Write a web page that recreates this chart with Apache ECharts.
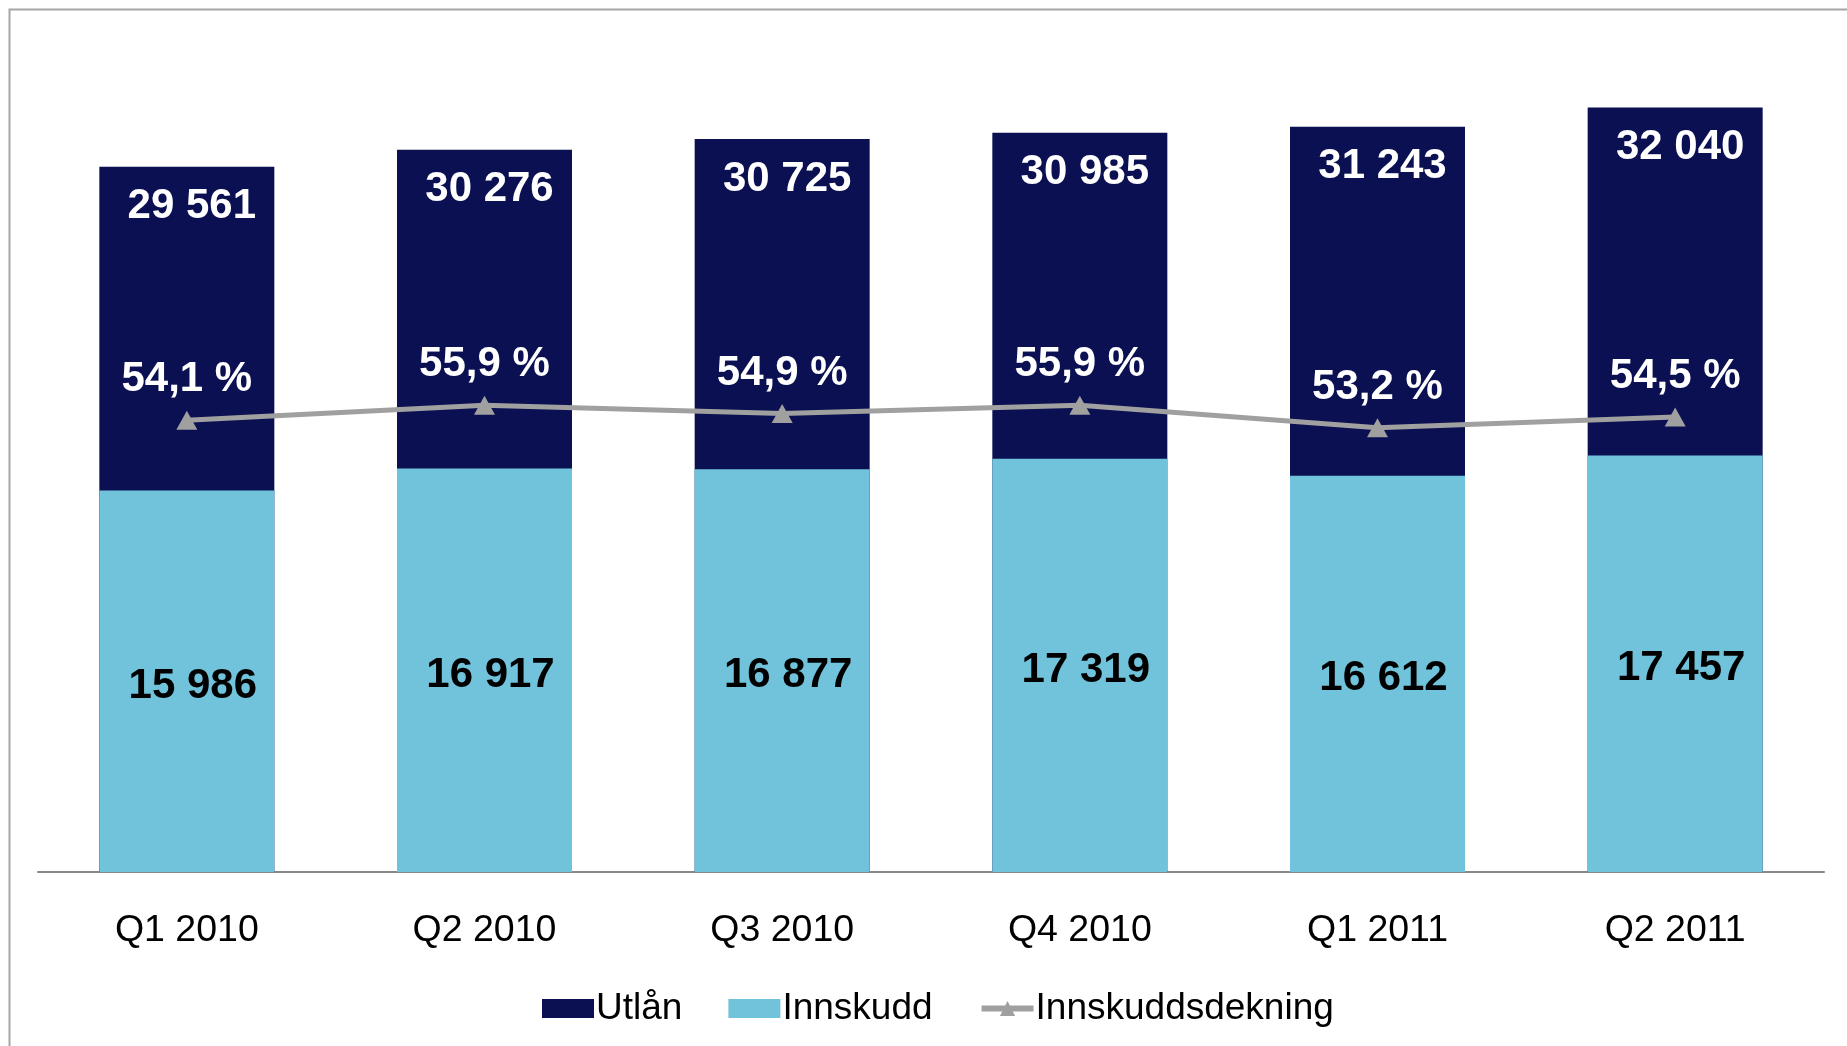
<!DOCTYPE html>
<html lang="no">
<head>
    <meta charset="UTF-8">
    <title>Utlån og innskudd</title>
    <style>
        html, body { margin: 0; padding: 0; background: #fff; }
        #main { width: 1847px; height: 1046px; }
    </style>
</head>
<body>
    <div id="main"></div>
    <script src="https://cdn.jsdelivr.net/npm/echarts@6/dist/echarts.min.js"></script>
    <script>
        // kvartaler
        var categories = ['Q1 2010', 'Q2 2010', 'Q3 2010', 'Q4 2010', 'Q1 2011', 'Q2 2011'];
        // utlån og innskudd (MNOK)
        var utlan = [29561, 30276, 30725, 30985, 31243, 32040];
        var innskudd = [15986, 16917, 16877, 17319, 16612, 17457];
        // innskuddsdekning i prosent
        var dekning = [54.1, 55.9, 54.9, 55.9, 53.2, 54.5];

        // 29561 -> "29 561"
        var fmtNum = function (v) {
            return String(v).replace(/\B(?=(\d{3})+(?!\d))/g, ' ');
        };
        // 54.1 -> "54,1 %"
        var fmtPct = function (v) {
            return v.toFixed(1).replace('.', ',') + ' %';
        };

        var font = 'Liberation Sans, Arial, sans-serif';

        var myChart = echarts.init(document.getElementById('main'));

        myChart.setOption({
            animation: false,
            textStyle: { fontFamily: font },
            graphic: [{
                type: 'rect',
                left: 7,
                top: 7,
                shape: { width: 1900, height: 1100 },
                style: { fill: 'none', stroke: '#a6a6a6', lineWidth: 2 },
                silent: true
            }],
            grid: {
                left: 38,
                right: 23,
                top: 37,
                bottom: 174
            },
            legend: {
                left: 537,
                top: 985,
                itemWidth: 52,
                itemHeight: 19,
                itemGap: 46,
                textStyle: {
                    fontFamily: font,
                    fontSize: 37,
                    lineHeight: 37,
                    color: '#000',
                    padding: [0, 0, 0, -3]
                },
                data: [
                    { name: 'Utlån', icon: 'rect' },
                    { name: 'Innskudd', icon: 'rect' },
                    {
                        name: 'Innskuddsdekning',
                        lineStyle: { width: 6, color: '#a0a0a0' },
                        itemStyle: { color: '#a0a0a0' }
                    }
                ]
            },
            xAxis: {
                type: 'category',
                data: categories,
                axisTick: { show: false },
                axisLine: { lineStyle: { color: '#888888', width: 2 } },
                axisLabel: {
                    margin: 40,
                    fontSize: 37.5,
                    lineHeight: 37,
                    color: '#000',
                    fontFamily: font
                }
            },
            yAxis: [{
                type: 'value',
                min: 0,
                max: 35000,
                show: false,
                splitLine: { show: false }
            }, {
                type: 'value',
                min: 0,
                max: 100,
                show: false,
                splitLine: { show: false }
            }],
            series: [{
                name: 'Utlån',
                type: 'bar',
                barWidth: 175,
                barGap: '-100%',
                itemStyle: { color: '#0b1052' },
                label: {
                    show: true,
                    position: 'insideTop',
                    distance: 20,
                    offset: [5, 0],
                    color: '#fff',
                    fontWeight: 'bold',
                    fontSize: 42,
                    lineHeight: 40,
                    fontFamily: font,
                    formatter: function (p) { return fmtNum(p.value); }
                },
                data: utlan
            }, {
                name: 'Innskudd',
                type: 'bar',
                barWidth: 175,
                barGap: '-100%',
                itemStyle: { color: '#70c3db' },
                label: {
                    show: true,
                    position: 'inside',
                    offset: [6, 5],
                    color: '#000',
                    fontWeight: 'bold',
                    fontSize: 42,
                    lineHeight: 40,
                    fontFamily: font,
                    formatter: function (p) { return fmtNum(p.value); }
                },
                data: innskudd
            }, {
                name: 'Innskuddsdekning',
                type: 'line',
                yAxisIndex: 1,
                symbol: 'triangle',
                symbolSize: [21, 19],
                lineStyle: { color: '#a0a0a0', width: 5 },
                itemStyle: { color: '#a0a0a0' },
                z: 5,
                label: {
                    show: true,
                    position: 'top',
                    distance: 11,
                    color: '#fff',
                    fontWeight: 'bold',
                    fontSize: 42,
                    lineHeight: 40,
                    fontFamily: font,
                    formatter: function (p) { return fmtPct(p.value); }
                },
                data: dekning
            }]
        });

        window.onresize = myChart.resize;
    </script>
</body>
</html>
